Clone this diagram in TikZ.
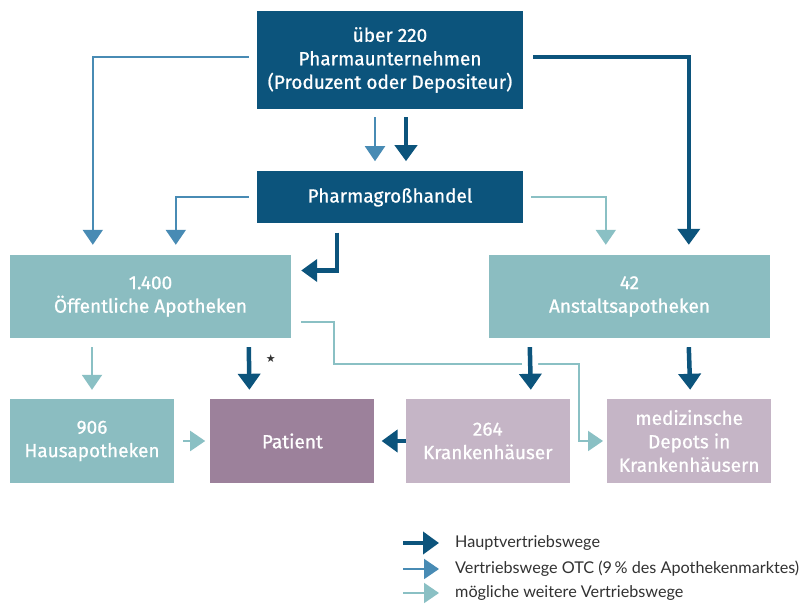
\documentclass[tikz,border=0pt]{standalone}
\usepackage{fontspec}
\setmainfont{Lato}
\newfontfamily\boxfont[FakeBold=0.8]{Fira Sans}
\newfontfamily\symfont{DejaVu Sans}
\usetikzlibrary{positioning,arrows.meta}

\definecolor{pharmadark}{RGB}{12,84,124}
\definecolor{otcblue}{RGB}{72,139,180}
\definecolor{optteal}{RGB}{138,192,196}
\definecolor{tealbox}{RGB}{139,189,193}
\definecolor{patientbox}{RGB}{156,129,155}
\definecolor{mauvebox}{RGB}{197,181,198}
\definecolor{legendtext}{RGB}{50,50,50}

\begin{document}
\begin{tikzpicture}[x=1pt,y=1pt,
			box/.style={
				minimum height=84pt,
				align=center,
				inner sep=2pt,
				text=white,
				font=\boxfont\fontsize{19}{23.5}\selectfont
			},
			main/.style={draw=pharmadark,line width=4.5pt,-{Triangle[width=22pt,length=16pt]}},
			otc/.style={draw=otcblue,line width=2pt,-{Triangle[width=20pt,length=15pt]}},
			opt/.style={draw=optteal,line width=2pt,-{Triangle[width=20pt,length=15pt]}},
			legend/.style={anchor=west,inner sep=0pt,text=legendtext,font=\fontsize{16.2}{18}\selectfont},
			node distance=34pt]
			
			\fill[white](0,0)rectangle(809,612);
			\useasboundingbox(0,0)rectangle(809,612);
			
			\node[box,fill=pharmadark,minimum width=266pt,minimum height=98pt](top)at(390,552){über 220\\Pharmaunternehmen\\(Produzent oder Depositeur)};
			
			\node[box,fill=pharmadark,minimum width=266pt,minimum height=52pt](gross)[below=62pt of top]{Pharmagroßhandel};
			
			\node[box,fill=tealbox,minimum width=281pt,minimum height=83pt](oeff)at(150.5,315.5){1.400\\Öffentliche Apotheken};
			
			\node[box,fill=tealbox,minimum width=281pt,minimum height=83pt](anst)at(629.5,315.5){42\\Anstaltsapotheken};
			
			\node[box,fill=tealbox,minimum width=164pt](haus)at(92,171){906\\Hausapotheken};
			
			\node[box,fill=patientbox,minimum width=164pt](pat)[right=36pt of haus]{Patient};
			
			\node[box,fill=mauvebox,minimum width=164pt](kh)[right=31pt of pat]{264\\Krankenhäuser};
			
			\node[box,fill=mauvebox,minimum width=164pt](dep)[right=37pt of kh]{medizinsche\\Depots in\\Krankenhäusern};
			
			\node[inner sep=0pt,text=legendtext,font=\symfont\fontsize{11}{11}\selectfont](star)at([xshift=261pt,yshift=-20pt]oeff.south west){★};
			
			% Pharmaunternehmen und Grosshandel
			\draw[otc]([xshift=-8pt,yshift=3pt]top.west)-|([xshift=83pt,yshift=10pt]oeff.north west);
			
			\draw[otc]([xshift=-8pt]gross.west)-|([xshift=166pt,yshift=10pt]oeff.north west);
			
			\draw[otc]([xshift=-15pt,yshift=-8pt]top.south)--([xshift=-15pt,yshift=10pt]gross.north);
			
			\draw[main]([xshift=16pt,yshift=-8pt]top.south)--([xshift=16pt,yshift=10pt]gross.north);
			
			\draw[opt]([xshift=8pt]gross.east)-|([xshift=117pt,yshift=10pt]anst.north west);
			
			\draw[main]([xshift=10pt,yshift=3pt]top.east)-|([xshift=200pt,yshift=10pt]anst.north west);
			
			\draw[main]([xshift=80pt,yshift=-9pt]gross.south west)|-([xshift=10pt,yshift=26pt]oeff.east);
			
			% Apotheken
			\draw[opt]([yshift=-9pt]oeff.south-|haus.north)--([yshift=9pt]haus.north);
			
			\draw[main]([xshift=239pt,yshift=-9pt]oeff.south west)--([xshift=-43pt,yshift=9pt]pat.north);
			
			\draw[opt]([xshift=10pt,yshift=-26pt]oeff.east)--++(33pt,0)--++(0,-42pt)-|([xshift=-28pt]dep.west)--([xshift=-4pt]dep.west);
			
			\draw[main,preaction={draw=white,line width=16pt,-}]([xshift=41pt,yshift=-9pt]anst.south west)--([xshift=43pt,yshift=9pt]kh.north);
			
			\draw[main]([xshift=200pt,yshift=-9pt]anst.south west)--([xshift=1pt,yshift=9pt]dep.north);
			
			\draw[opt]([xshift=9pt]haus.east)--([xshift=-5pt]pat.west);
			
			\draw[main](kh.west)--([xshift=7pt]pat.east);
			
			% Legende
			\node[legend](legmain)at(455,69){Hauptvertriebswege};
			
			\node[legend](legotc)at(455,43){Vertriebswege OTC (9\,\% des Apothekenmarktes)};
			
			\node[legend](legopt)at(455,19){mögliche weitere Vertriebswege};
			
			\draw[main]([xshift=-52pt]legmain.west)--([xshift=-16pt]legmain.west);
			
			\draw[otc]([xshift=-52pt]legotc.west)--([xshift=-16pt]legotc.west);
			
			\draw[opt]([xshift=-52pt]legopt.west)--([xshift=-16pt]legopt.west);
			
		\end{tikzpicture}
\end{document}
